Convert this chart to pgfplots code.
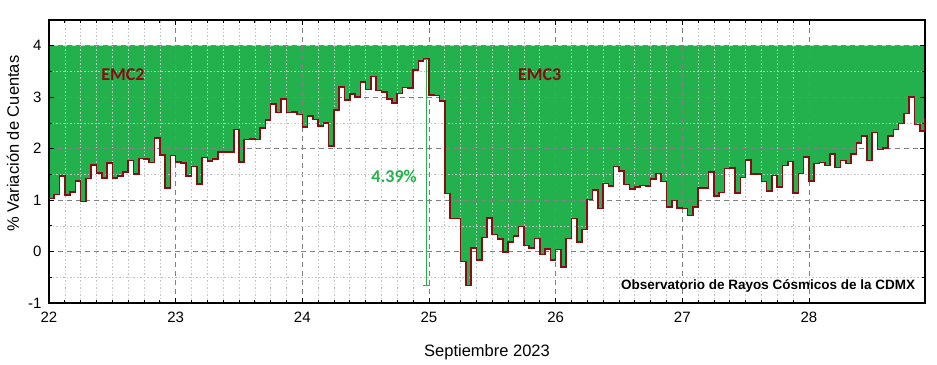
\documentclass[border=0pt]{standalone}
\usepackage{pgfplots}
\pgfplotsset{compat=1.18}
\usepackage{pgfplotstable}
\usepgfplotslibrary{fillbetween}
\usetikzlibrary{arrows.meta}
\usepackage{fontspec}
\setmainfont{Liberation Sans}
\newfontfamily\carlito{Carlito}
\definecolor{emcgreen}{RGB}{34,177,76}
\definecolor{emcred}{RGB}{140,10,20}
\definecolor{majgrid}{RGB}{128,128,128}
\definecolor{mingrid}{RGB}{195,195,195}
\pgfplotstableread{
h v
0 1.03
1 1.11
2 1.47
3 1.10
4 1.16
5 1.37
6 0.97
7 1.42
8 1.68
9 1.53
10 1.43
11 1.72
12 1.43
13 1.47
14 1.55
15 1.77
16 1.51
17 1.81
18 1.80
19 1.73
20 2.21
21 1.88
22 1.23
23 1.87
24 1.74
25 1.72
26 1.47
27 1.65
28 1.31
29 1.83
30 1.76
31 1.80
32 1.93
33 1.93
34 1.93
35 2.37
36 1.74
37 2.18
38 2.19
39 2.18
40 2.40
41 2.56
42 2.87
43 2.70
44 2.97
45 2.70
46 2.71
47 2.66
48 2.42
49 2.63
50 2.57
51 2.44
52 2.50
53 2.05
54 2.75
55 3.20
56 2.95
57 3.06
58 3.00
59 3.29
60 3.15
61 3.40
62 3.13
63 3.10
64 2.96
65 2.89
66 3.07
67 3.19
68 3.18
69 3.53
70 3.70
71 3.75
72 3.04
73 3.03
74 2.92
75 1.13
76 0.64
77 0.64
78 -0.19
79 -0.66
80 0.07
81 -0.16
82 0.27
83 0.65
84 0.33
85 0.24
86 -0.01
87 0.18
88 0.30
89 0.49
90 0.12
91 0.07
92 0.25
93 -0.06
94 0.05
95 -0.17
96 0.04
97 -0.30
98 0.25
99 0.64
100 0.18
101 0.43
102 1.01
103 1.20
104 0.84
105 1.32
106 1.27
107 1.65
108 1.57
109 1.30
110 1.22
111 1.25
112 1.28
113 1.27
114 1.41
115 1.52
116 1.36
117 0.87
118 0.99
119 0.85
120 0.84
121 0.70
122 0.87
123 1.23
124 1.24
125 1.54
126 1.08
127 1.15
128 1.61
129 1.62
130 1.14
131 1.44
132 1.78
133 1.51
134 1.51
135 1.36
136 1.18
137 1.48
138 1.26
139 1.67
140 1.75
141 1.14
142 1.52
143 1.84
144 1.37
145 1.71
146 1.73
147 1.67
148 1.90
149 1.63
150 1.77
151 1.71
152 1.90
153 2.11
154 2.24
155 1.77
156 2.31
157 1.98
158 2.01
159 2.25
160 2.37
161 2.49
162 2.68
163 3.00
164 2.47
165 2.34
166 2.60
}\emcdata
\begin{document}
\begin{tikzpicture}
\begin{axis}[name=ax, set layers, scale only axis,
 width=876pt, height=283pt,
 xmin=0, xmax=166, ymin=-1, ymax=4.5,
 xtick={0,24,48,72,96,120,144}, xticklabels={22,23,24,25,26,27,28},
 minor x tick num=7,
 ytick={-1,0,1,2,3,4}, yticklabels={-1,0,1,2,3,4},
 minor y tick num=1,
 grid=both,
 major grid style={majgrid, dash pattern=on 5pt off 4pt, line width=0.8pt},
 minor grid style={mingrid, dash pattern=on 1.5pt off 2pt, line width=0.6pt},
 tick align=inside,
 major tick length=5pt, minor tick length=3pt,
 every tick/.style={black, line width=0.8pt},
 axis line style={black, line width=1.3pt},
 tick label style={font=\fontsize{15}{18}\selectfont},
 xticklabel style={yshift=-5pt},
 yticklabel style={xshift=-4pt},
 xlabel={Septiembre 2023}, ylabel={\% Variación de Cuentas},
 every axis x label/.style={at={(axis description cs:0.5,-0.173)}, anchor=center, font=\fontsize{16.5}{20}\selectfont},
 every axis y label/.style={at={(axis description cs:-0.0411,0.5636)}, anchor=center, rotate=90, font=\fontsize{16.5}{20}\selectfont},
]
\addplot[draw=none, name path=top, forget plot] coordinates {(0,4) (166,4)};
\addplot[draw=none, const plot, name path=data, forget plot] table[x=h, y=v] {\emcdata};
\addplot[emcgreen, draw=none] fill between[of=top and data, on layer=axis background];
\addplot[emcgreen, line width=0.9pt, {Bar[width=7pt]}-{Bar[width=7pt]}] coordinates {(71.5,3.75) (71.5,-0.66)};
\addplot[const plot, emcred, line width=1.6pt] table[x=h, y=v] {\emcdata};
\node[font=\carlito\bfseries\fontsize{18}{20}\selectfont, text=emcred] at (axis cs:14,3.44) {EMC2};
\node[font=\carlito\bfseries\fontsize{18}{20}\selectfont, text=emcred] at (axis cs:93,3.44) {EMC3};
\node[font=\carlito\bfseries\fontsize{18}{20}\selectfont, text=emcgreen] at (axis cs:65.4,1.46) {4.39\%};
\node[font=\bfseries\fontsize{13.5}{16}\selectfont, anchor=east] at (axis cs:164.8,-0.66) {Observatorio de Rayos Cósmicos de la CDMX};
\end{axis}
\pgfresetboundingbox
\path (ax.south west) +(-49pt,-62pt);
\path (ax.north east) +(12pt,20pt);
\end{tikzpicture}
\end{document}
